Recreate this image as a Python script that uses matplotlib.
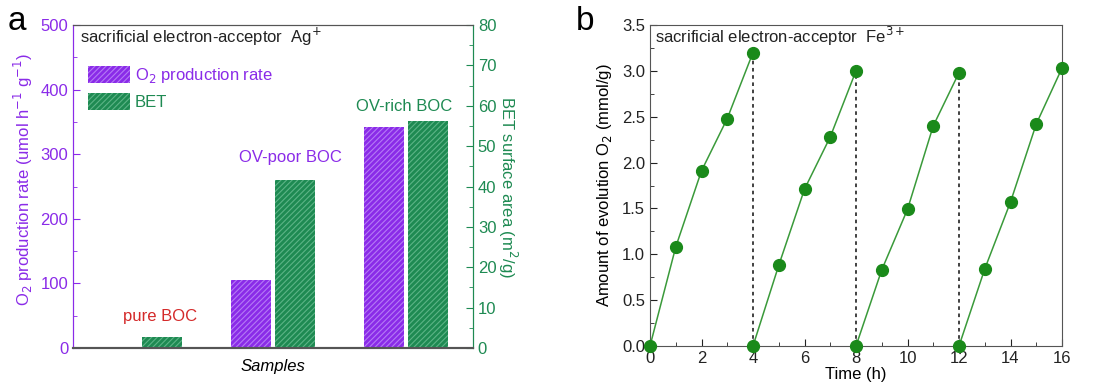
import numpy as np
import matplotlib.pyplot as plt
from matplotlib.ticker import MultipleLocator

plt.rcParams['font.family'] = ['Liberation Sans', 'DejaVu Sans']
plt.rcParams['font.size'] = 12
plt.rcParams['hatch.linewidth'] = 0.8

# panel a data
samples = ["pure BOC", "OV-poor BOC", "OV-rich BOC"]
o2_rate = [0, 105, 342]          # umol h-1 g-1
bet_area = [2.8, 41.7, 56.2]     # m2/g

# panel b data (four cycles of 4 h)
time_h = [0, 1, 2, 3, 4, 4, 5, 6, 7, 8, 8, 9, 10, 11, 12, 12, 13, 14, 15, 16]
o2_amount = [0, 1.08, 1.91, 2.48, 3.20,
             0, 0.88, 1.71, 2.28, 3.00,
             0, 0.83, 1.49, 2.40, 2.98,
             0, 0.84, 1.57, 2.42, 3.03]
cycle_ends = [4, 8, 12]
cycle_peaks = [3.20, 3.00, 2.98]
POINTS_PER_CYCLE = 5

PURPLE = "#8a2be8"
PURPLE_HATCH = "#b57af5"
GREEN = "#1e8a52"
GREEN_HATCH = "#5cb486"
RED = "#d42a2a"
SPINE = "#555555"

fig = plt.figure(figsize=(10.93, 3.9), dpi=100)

# ---------- panel a ----------
ax1 = fig.add_axes([73 / 1093, 1 - 348 / 390, 400 / 1093, 323 / 390])
ax2 = ax1.twinx()

x = np.arange(1, 4)
w = 0.3
off = 0.165
ax1.bar(x - off, o2_rate, w, color=PURPLE, edgecolor=PURPLE_HATCH, hatch="//////",
        linewidth=0, label="O$_2$ production rate")
ax2.bar(x + off, bet_area, w, color=GREEN, edgecolor=GREEN_HATCH, hatch="//////",
        linewidth=0, label="BET")

ax1.set_xlim(0.5, 3.5)
ax1.set_ylim(0, 500)
ax2.set_ylim(0, 80)
ax1.set_xticks([])
ax1.yaxis.set_major_locator(MultipleLocator(100))
ax1.yaxis.set_minor_locator(MultipleLocator(50))
ax2.yaxis.set_major_locator(MultipleLocator(10))
ax2.yaxis.set_minor_locator(MultipleLocator(5))
ax1.tick_params(axis='y', which='both', direction='in', colors=PURPLE, labelsize=12)
ax1.tick_params(axis='y', which='major', length=5)
ax1.tick_params(axis='y', which='minor', length=3)
ax2.tick_params(axis='y', which='both', direction='in', colors=GREEN, labelsize=12)
ax2.tick_params(axis='y', which='major', length=5)
ax2.tick_params(axis='y', which='minor', length=3)

for a in (ax1, ax2):
    a.spines['top'].set_color(SPINE)
    a.spines['bottom'].set_color(SPINE)
    a.spines['bottom'].set_linewidth(1.5)
    a.spines['left'].set_color(PURPLE)
    a.spines['right'].set_color(GREEN)

ax1.set_ylabel("O$_2$ production rate (umol h$^{-1}$ g$^{-1}$)", color=PURPLE, fontsize=12)
ax1.yaxis.set_label_coords(-0.095, 0.52)
ax2.set_ylabel("BET surface area (m$^2$/g)", color=GREEN, fontsize=12, rotation=270,
               va='center')
ax2.yaxis.set_label_coords(1.087, 0.5)
ax1.set_xlabel("Samples", style='italic', fontsize=12, labelpad=8)

ax2.text(0.55, 77, "sacrificial electron-acceptor  Ag$^{+}$", fontsize=12,
         va='center', ha='left', color="#222222")

sample_colors = [RED, PURPLE, GREEN]
label_x = [1.15, 2.13, 2.98]
label_y = [7.9, 47.3, 59.7]
for lx, name, c, ly in zip(label_x, samples, sample_colors, label_y):
    ax2.text(lx, ly, name, color=c, fontsize=12, ha='center', va='center')

h1, l1 = ax1.get_legend_handles_labels()
h2, l2 = ax2.get_legend_handles_labels()
leg = ax2.legend(h1 + h2, l1 + l2, loc='upper left', bbox_to_anchor=(0.0, 0.92),
                 frameon=False, handlelength=2.5, handleheight=1.2, handletextpad=0.3,
                 labelspacing=0.45, fontsize=12)
for t, c in zip(leg.get_texts(), [PURPLE, GREEN]):
    t.set_color(c)

fig.text(8 / 1093, 1 - 22 / 390, "a", fontsize=24, va='center', ha='left')

# ---------- panel b ----------
ax3 = fig.add_axes([650 / 1093, 1 - 346 / 390, 412 / 1093, 321 / 390])
ax3.vlines(cycle_ends, 0, cycle_peaks, colors="#333333", linestyles=(0, (2, 2)),
           linewidth=1.3, zorder=2)
for i in range(0, len(time_h), POINTS_PER_CYCLE):
    ax3.plot(time_h[i:i + POINTS_PER_CYCLE], o2_amount[i:i + POINTS_PER_CYCLE],
             color="#3a9a3a", linewidth=1.1, marker='o', markersize=8.5,
             markerfacecolor="#1a8a1a", markeredgecolor="#1a8a1a", clip_on=False, zorder=3)
ax3.set_xlim(0, 16)
ax3.set_ylim(0, 3.5)
ax3.xaxis.set_major_locator(MultipleLocator(2))
ax3.xaxis.set_minor_locator(MultipleLocator(1))
ax3.yaxis.set_major_locator(MultipleLocator(0.5))
ax3.yaxis.set_minor_locator(MultipleLocator(0.25))
ax3.yaxis.set_major_formatter(plt.FormatStrFormatter('%.1f'))
ax3.tick_params(which='both', direction='in', colors="#222222", labelsize=12)
ax3.tick_params(which='major', length=5)
ax3.tick_params(which='minor', length=3)
for s in ax3.spines.values():
    s.set_color(SPINE)
ax3.set_xlabel("Time (h)", fontsize=12, labelpad=1)
ax3.set_ylabel("Amount of evolution O$_2$ (mmol/g)", fontsize=12, labelpad=6)
ax3.text(0.2, 3.38, "sacrificial electron-acceptor  Fe$^{3+}$", fontsize=12,
         va='center', ha='left', color="#222222")

fig.text(576 / 1093, 1 - 22 / 390, "b", fontsize=24, va='center', ha='left')

fig.savefig("out.png", dpi=100)
